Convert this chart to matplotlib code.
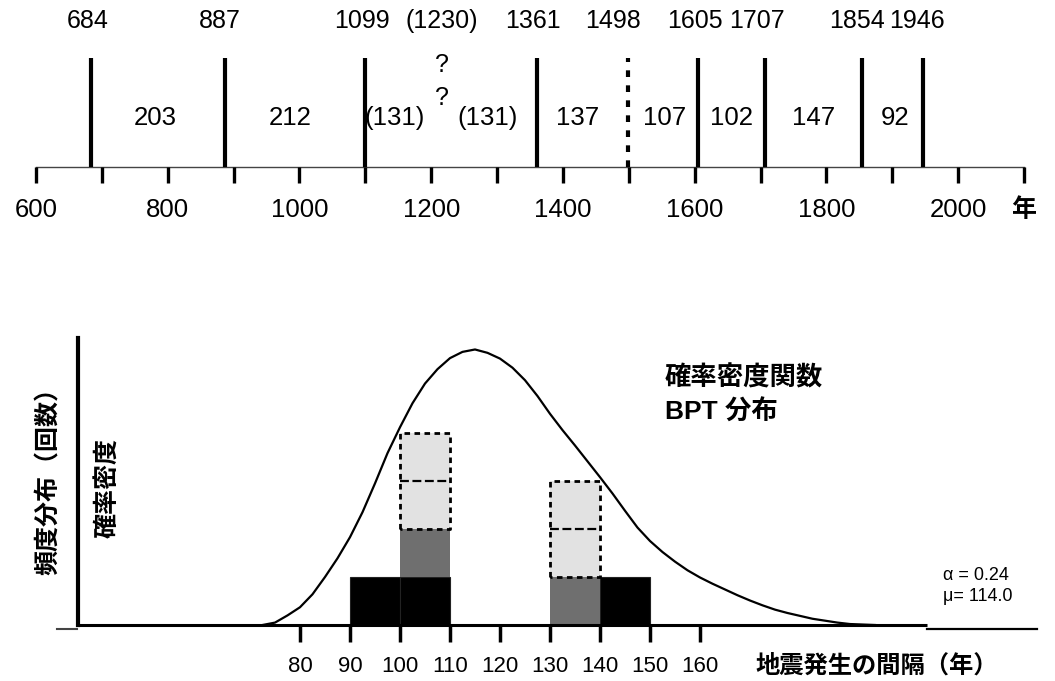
import numpy as np
import matplotlib
matplotlib.use("Agg")
import matplotlib.pyplot as plt

plt.rcParams['font.family'] = ['Liberation Sans', 'Noto Sans CJK JP', 'DejaVu Sans']

# --- timeline data (top) ---
event_years = [684, 887, 1099, 1230, 1361, 1498, 1605, 1707, 1854, 1946]
event_labels = ['684', '887', '1099', '(1230)', '1361', '1498', '1605', '1707', '1854', '1946']
event_kind = ['solid', 'solid', 'solid', 'unknown', 'solid', 'dashed', 'solid', 'solid', 'solid', 'solid']
interval_labels = ['203', '212', '(131)', '(131)', '137', '107', '102', '147', '92']
timeline_ticks = list(range(600, 2101, 100))
timeline_ticklabels = list(range(600, 2001, 200))

# small horizontal nudges of the labels (pixels)
event_label_nudge = [-4, -5, -3, -9, -4, -15, -3, -8, -5, -6]
interval_label_nudge = [-3, -5, -13, -7, -5, 2, 0, 0, 3]

# --- histogram data (bottom) ---
bin_left = [90, 100, 130, 140]
black_counts = [1, 1, 0, 1]
gray_counts = [0, 1, 1, 0]
possible_counts = [0, 2, 2, 0]
bin_width = 10
hist_ticks = list(range(80, 161, 10))

# BPT density curve (alpha=0.24, mu=114.0), in bar-count units
curve_t = [72.5, 75, 77.5, 80, 82.5, 85, 87.5, 90, 92.5, 95, 97.5, 100, 102.5, 105,
           107.5, 110, 112.5, 115, 117.5, 120, 122.5, 125, 127.5, 130, 132.5, 135,
           137.5, 140, 142.5, 145, 147.5, 150, 152.5, 155, 157.5, 160, 162.5, 165,
           167.5, 170, 172.5, 175, 177.5, 180, 182.5, 185, 187.5, 190, 192.5, 195]
curve_h = [0.0, 0.05, 0.20, 0.37, 0.64, 1.00, 1.39, 1.83, 2.35, 2.95, 3.58, 4.12, 4.62, 5.03,
           5.33, 5.56, 5.69, 5.74, 5.67, 5.55, 5.36, 5.10, 4.77, 4.40, 4.06, 3.74,
           3.41, 3.08, 2.74, 2.38, 2.03, 1.75, 1.52, 1.32, 1.14, 0.99, 0.86, 0.74,
           0.62, 0.51, 0.41, 0.32, 0.25, 0.19, 0.13, 0.09, 0.05, 0.02, 0.01, 0.0]

fig = plt.figure(figsize=(10.55, 6.81), dpi=100)

# ---------------- top: timeline ----------------
ax1 = fig.add_axes([0, 1 - 240 / 681, 1, 240 / 681])
ax1.set_xlim(545.35, 2147.0)
ax1.set_ylim(240, 0)
ax1.axis('off')

base_y = 167
ax1.plot([timeline_ticks[0], timeline_ticks[-1]], [base_y, base_y], color='#444444', lw=1.0)
ax1.vlines(timeline_ticks, base_y, 183, color='black', lw=2.4)
for yr in timeline_ticklabels:
    ax1.text(yr, 210, str(yr), ha='center', va='center', fontsize=18.5)
ax1.text(timeline_ticks[-1], 210, '年', ha='center', va='center', fontsize=18,
         fontweight='bold')

for yr, lab, kind, dx in zip(event_years, event_labels, event_kind, event_label_nudge):
    if kind == 'solid':
        ax1.plot([yr, yr], [base_y, 58], color='black', lw=3.0, solid_capstyle='butt')
    elif kind == 'dashed':
        ax1.plot([yr, yr], [base_y, 58], color='black', lw=3.0, ls=(0, (1.6, 2.0)))
    else:
        ax1.annotate('?', (yr, 65), xytext=(dx, 0), textcoords='offset pixels',
                     ha='center', va='center', fontsize=18)
        ax1.annotate('?', (yr, 98), xytext=(dx, 0), textcoords='offset pixels',
                     ha='center', va='center', fontsize=18)
    ax1.annotate(lab, (yr, 21), xytext=(dx, 0), textcoords='offset pixels',
                 ha='center', va='center', fontsize=18)

for i, (lab, dx) in enumerate(zip(interval_labels, interval_label_nudge)):
    mid = (event_years[i] + event_years[i + 1]) / 2
    ax1.annotate(lab, (mid, 118), xytext=(dx, 0), textcoords='offset pixels',
                 ha='center', va='center', fontsize=18.5)

# ---------------- bottom: histogram + BPT ----------------
ax2 = fig.add_axes([0, 0, 1, 381 / 681])
ax2.set_xlim(20, 231)
ax2.set_ylim(-56 / 48, 325 / 48)
ax2.axis('off')

black_counts = np.array(black_counts)
gray_counts = np.array(gray_counts)
possible_counts = np.array(possible_counts)

ax2.bar(bin_left, black_counts, width=bin_width, align='edge', color='black',
        edgecolor='#222222', lw=0.8, zorder=2)
ax2.bar(bin_left, gray_counts, width=bin_width, bottom=black_counts, align='edge',
        color='#6f6f6f', edgecolor='none', zorder=2)
pbottom = black_counts + gray_counts
ax2.bar(bin_left, possible_counts, width=bin_width, bottom=pbottom, align='edge',
        color='#e2e2e2', edgecolor='none', zorder=2)
for x, b, c in zip(bin_left, pbottom, possible_counts):
    if c == 0:
        continue
    ax2.plot([x, x, x + bin_width, x + bin_width, x], [b, b + c, b + c, b, b],
             color='black', lw=2.0, ls=(0, (2.0, 1.6)), zorder=3)
    for k in range(1, c):
        ax2.plot([x, x + bin_width], [b + k, b + k], color='black', lw=1.6,
                 ls=(0, (4.0, 1.6)), zorder=3)

ax2.plot(curve_t, curve_h, color='black', lw=1.6, zorder=4)

# axes lines drawn by hand
ax2.plot([35.6, 205.4], [0, 0], color='black', lw=2.2, zorder=5, solid_capstyle='butt')
ax2.plot([205.4, 227.4], [-0.08, -0.08], color='black', lw=1.6, zorder=5)
ax2.plot([31.4, 35.4], [-0.08, -0.08], color='#444444', lw=1.5)
ax2.plot([35.6, 35.6], [0, 5.98], color='black', lw=3.0, zorder=5)
ax2.vlines(hist_ticks, -0.35, 0, color='black', lw=2.5, zorder=5)
for t in hist_ticks:
    ax2.text(t, -0.86, str(t), ha='center', va='center', fontsize=16)

ax2.text(171, -0.86, '地震発生の間隔（年）', ha='left', va='center', fontsize=17.5,
         fontweight='bold')
ax2.text(29.8, 3.12, '頻度分布（回数）', rotation=90, ha='center', va='center', fontsize=18,
         fontweight='bold')
ax2.text(41.4, 2.85, '確率密度', rotation=90, ha='center', va='center', fontsize=18,
         fontweight='bold')
ax2.text(153, 5.15, '確率密度関数', ha='left', va='center', fontsize=19, fontweight='bold')
ax2.text(153, 4.44, 'BPT 分布', ha='left', va='center', fontsize=19, fontweight='bold')
ax2.text(208.6, 1.04, 'α = 0.24', ha='left', va='center', fontsize=13)
ax2.text(208.6, 0.60, 'μ= 114.0', ha='left', va='center', fontsize=13)

fig.savefig('out.png', dpi=100)
